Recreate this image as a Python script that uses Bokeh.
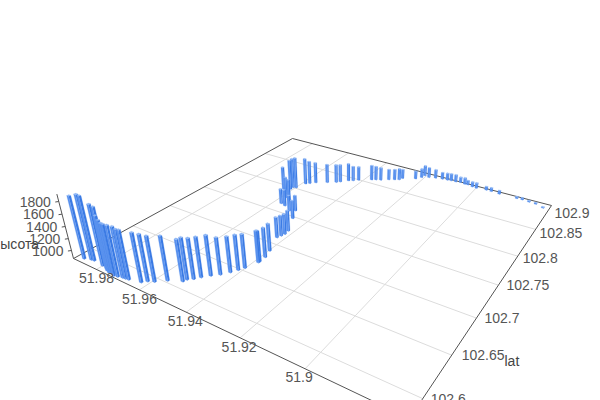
import numpy as np
from bokeh.plotting import figure
from bokeh.models import Range1d
from bokeh.core.properties import value
from bokeh.embed import file_html
from bokeh.resources import INLINE

LON = [51.9872,51.9849,51.9837,51.9793,51.9770,51.9760,51.9746,51.9737,51.9723,51.9709,51.9693,51.9682,51.9670,51.9629,51.9617,51.9599,51.9571,51.9531,51.9527,51.9513,51.9500,51.9482,51.9462,51.9445,51.9433,51.9423,51.9408,51.9408,51.9408,51.9419,
       51.9448,51.9443,51.9439,51.9442,51.9478,51.9502,51.9576,51.9555,51.9520,51.9637,51.9589,51.9568,51.9615,51.9615,51.9604,51.9593,51.9581,51.9565,51.9529,51.9501,51.9490,51.9468,51.9453,51.9438,51.9397,51.9383,51.9366,51.9341,51.9322,51.9307,51.9301,51.9257,51.9242,51.9238,51.9218,51.9194,51.9168,51.9148,51.9133,51.9115,51.9097,51.9078,51.9066,51.9045,51.9028,51.8991,51.8971,51.8939,51.8873,51.8853,51.8827,51.8802,51.8772]
LAT = [102.5851,102.5874,102.5878,102.5867,102.5856,102.5840,102.5829,102.5829,102.5821,102.5829,102.5842,102.5845,102.5850,102.5879,102.5917,102.5944,102.6012,102.6071,102.6108,102.6144,102.6193,102.6254,102.6308,102.6378,102.6439,102.6492,102.6618,102.6636,102.6713,102.6815,102.7026,102.7071,102.7113,102.7177,102.7386,102.7523,102.7566,102.7547,102.7489,102.7835,102.7697,102.7668,102.7873,102.7919,102.7930,102.8061,102.8092,102.8141,102.8213,102.8270,102.8304,102.8373,102.8401,102.8447,102.8530,102.8555,102.8578,102.8632,102.8666,102.8693,102.8742,102.8812,102.8877,102.8936,102.8921,102.8947,102.8964,102.8971,102.8978,102.8981,102.8995,102.8982,102.8985,102.8966,102.8960,102.8974,102.8971,102.8960,102.8962,102.8966,102.8954,102.8948,102.8905]
ALT = [1893,1930,1921,1861,1861,1751,1713,1681,1693,1692,1685,1659,1662,1659,1621,1599,1585,1544,1544,1525,1522,1524,1471,1453,1444,1425,1393,1378,1362,1326,1220,1217,1219,1221,1188,1143,1137,1160,1143,1285,1246,1244,1412,1416,1437,1350,1292,1254,1215,1205,1196,1197,1143,1124,1144,1124,1104,1064,1064,1078,1039,1015,1033,1060,1054,1025,990,996,998,998,963,983,943,956,962,928,930,927,896,896,888,888,882]

LON_LABELS = ["51.98", "51.96", "51.94", "51.92", "51.9"]
LON_GRID = [51.9792, 51.9605, 51.9421, 51.9231, 51.9028]
LAT_LABELS = ["102.6", "102.65", "102.7", "102.75", "102.8", "102.85", "102.9"]
LAT_GRID = [102.5988, 102.6454, 102.6924, 102.7413, 102.7913, 102.8449, 102.9]
ALT_LABELS = ["1000", "1200", "1400", "1600", "1800"]
ALT_TICKS = [1000, 1200, 1400, 1600, 1800]
U0, U1, V0, V1 = 51.875, 51.99, 102.58, 102.9
Z0, Z1 = 862.0, 1915.0

corners_src = [(U1, V0), (U1, V1), (U0, V1), (U0, V0)]
corners_dst = [(73, 258), (292, 138), (551, 205), (409, 418)]
VP = (350.0, 1330.0)
A, b = [], []
for (u, v), (x, y) in zip(corners_src, corners_dst):
    A.append([u, v, 1, 0, 0, 0, -u * x, -v * x]); b.append(x)
    A.append([0, 0, 0, u, v, 1, -u * y, -v * y]); b.append(y)
H = np.append(np.linalg.solve(np.array(A), np.array(b, float)), 1).reshape(3, 3)
w_c = (H @ np.array([U1, V0, 1.0]))[2]
def _t(y):
    s = (258 - y) / (VP[1] - 258)
    return -s * w_c / (1 + s)
Z_SCALE = (_t(201) - _t(250)) / 800
Z_ORIGIN = 1000 - _t(250) / Z_SCALE

def proj(u, v, z=None):
    p = H @ np.array([u, v, 1.0])
    zz = Z_ORIGIN if z is None else z
    p = p + Z_SCALE * (zz - Z_ORIGIN) * np.array([VP[0], VP[1], 1.0])
    return p[0] / p[2], p[1] / p[2]

p = figure(width=600, height=400, output_backend="svg", toolbar_location=None,
           x_range=Range1d(0, 600), y_range=Range1d(400, 0), min_border=0, outline_line_color=None)
p.xaxis.visible = False
p.yaxis.visible = False
p.grid.visible = False

gx, gy = [], []
for u in LON_GRID:
    a, c = proj(u, V0), proj(u, V1)
    gx.append([a[0], c[0]]); gy.append([a[1], c[1]])
for v in LAT_GRID[:-1]:
    a, c = proj(U1, v), proj(U0, v)
    gx.append([a[0], c[0]]); gy.append([a[1], c[1]])
p.multi_line(gx, gy, line_color="#dcdcdc", line_width=1)

edges = [[(U1, V0), (U1, V1), (U0, V1)], [(U1, V0), (U0, V0), (U0, V1)]]
ex, ey = [], []
for e in edges:
    pts = [proj(*q) for q in e]
    ex.append([q[0] for q in pts]); ey.append([q[1] for q in pts])
zb, zt = proj(U1, V0, Z0), proj(U1, V0, Z1)
ex.append([zb[0], zt[0]]); ey.append([zb[1], zt[1]])
for z in ALT_TICKS:
    q = proj(U1, V0, z)
    ex.append([q[0] - 3.5, q[0]]); ey.append([q[1] + 0.5, q[1]])
p.multi_line(ex, ey, line_color="#555555", line_width=1)

SU, SV = 0.0009, 0.002
FACE_U, FACE_V, FACE_T = "#3a7ae4", "#5a92ee", "#8db6f5"
order = sorted(range(len(LON)), key=lambda i: proj(LON[i], LAT[i])[1])
fx, fy, fc = [], [], []
for i in order:
    u, v, z = LON[i], LAT[i], ALT[i]
    u0, u1, v0, v1 = u - SU / 2, u + SU / 2, v - SV / 2, v + SV / 2
    faces = [([(u0, v0), (u0, v1)], FACE_U), ([(u0, v0), (u1, v0)], FACE_V)]
    for (q0, q1), col in faces:
        pts = [proj(*q0), proj(*q1), proj(q1[0], q1[1], z), proj(q0[0], q0[1], z)]
        fx.append([q[0] for q in pts]); fy.append([q[1] for q in pts]); fc.append(col)
    pts = [proj(u0, v0, z), proj(u1, v0, z), proj(u1, v1, z), proj(u0, v1, z)]
    fx.append([q[0] for q in pts]); fy.append([q[1] for q in pts]); fc.append(FACE_T)
p.patches(fx, fy, fill_color=fc, line_color=fc, line_width=0.2)

FONT = value("Liberation Sans")
LON_DX = [0, 0, -1, -1, -6]
LON_DY = [9, 9, 9, 9.5, 8]
xs, ys = [], []
for u, dx, dy in zip(LON_GRID, LON_DX, LON_DY):
    q = proj(u, V0)
    xs.append(q[0] + dx); ys.append(q[1] + dy)
p.text(xs, ys, text=LON_LABELS, text_font=FONT, text_font_size="14px", text_color="#555555",
       text_align="center", text_baseline="middle")

LAT_DX = [8, 10, 8, 8, 5, 4, 3]
LAT_DY = [0, 0, 0, 0, 2, 4, 7]
xs, ys = [], []
for v, dx, dy in zip(LAT_GRID, LAT_DX, LAT_DY):
    q = proj(U0, v)
    xs.append(q[0] + dx); ys.append(q[1] + dy)
p.text(xs, ys, text=LAT_LABELS, text_font=FONT, text_font_size="14px", text_color="#555555",
       text_align="left", text_baseline="middle")

xs, ys = [], []
for z in ALT_TICKS:
    q = proj(U1, V0, z)
    xs.append(q[0] - 8); ys.append(q[1])
p.text(xs, ys, text=ALT_LABELS, text_font=FONT, text_font_size="14px", text_color="#555555",
       text_align="right", text_baseline="middle")

p.text([504], [360], text=["lat"], text_font=FONT, text_font_size="14px", text_color="#444444",
       text_align="left", text_baseline="middle")
p.text([38.5], [243], text=["высота"], text_font=FONT, text_font_size="14px", text_color="#444444",
       text_align="right", text_baseline="middle")

open("out.html", "w").write(file_html(p, INLINE))
